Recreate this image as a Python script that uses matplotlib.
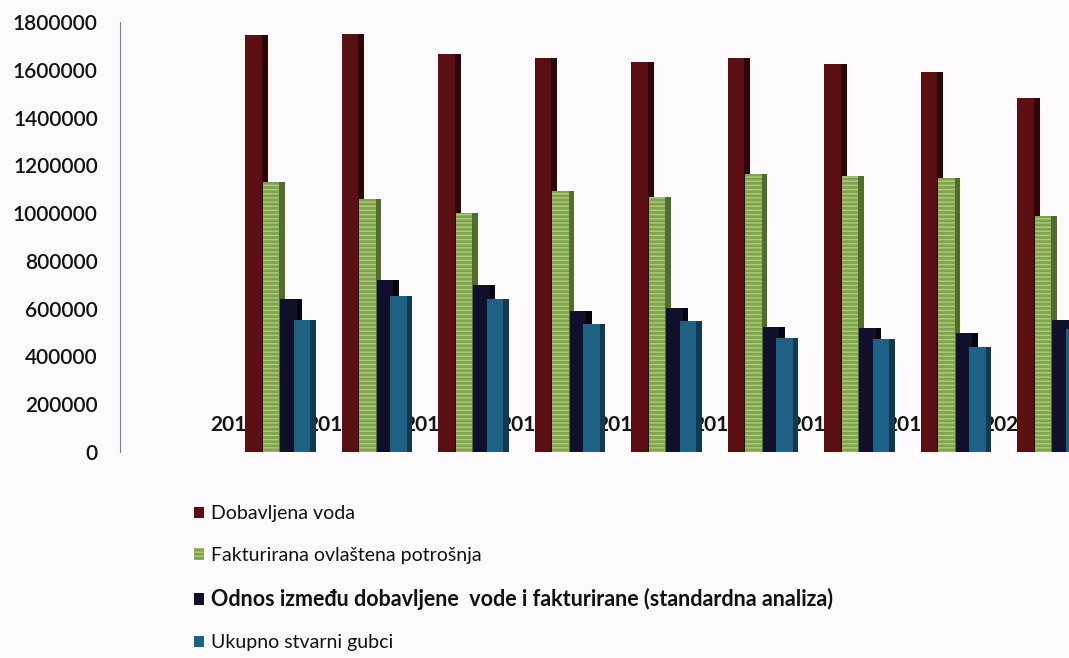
import matplotlib
matplotlib.use("Agg")
import matplotlib.pyplot as plt
import numpy as np

plt.rcParams['font.family'] = ['Lato', 'DejaVu Sans']

godine = [2012, 2013, 2014, 2015, 2016, 2017, 2018, 2019, 2020]
dobavljena = [1745000, 1750000, 1665000, 1650000, 1633000, 1650000, 1625000, 1592000, 1483000]
fakturirana = [1132000, 1060000, 1002000, 1092000, 1068000, 1165000, 1156000, 1148000, 988000]
odnos = [640000, 720000, 700000, 590000, 602000, 524000, 518000, 498000, 553000]
gubci = [553000, 653000, 641000, 535000, 549000, 478000, 473000, 440000, 515000]

nazivi = ["Dobavljena voda",
          "Fakturirana ovlaštena potrošnja",
          "Odnos između dobavljene  vode i fakturirane (standardna analiza)",
          "Ukupno stvarni gubci"]

# front / side colours for the fake 3D look
boje = ["#5c0f12", "#7da550", "#10102c", "#1f6184"]
boje_bok = ["#2e0608", "#4f6e2c", "#05050f", "#103a52"]

fig = plt.figure(figsize=(10.69, 6.58), dpi=100, facecolor="#fdfafc")
ax = fig.add_axes([120 / 1069, 206 / 658, 1 - 120 / 1069, 430 / 658])
ax.set_facecolor("#fdfafc")

x = np.arange(len(godine))
w = 0.17
side = 0.06
pomaci = [-0.18, 0.0, 0.18, 0.32]
serije = [dobavljena, fakturirana, odnos, gubci]

# year series (tiny bars) with labels
ax.bar(x - 0.38, godine, width=0.12, color="#2f7fa8", zorder=1)
for xi, g in zip(x, godine):
    ax.text(xi - 0.38, 113000, str(g), ha="center", va="center",
            fontsize=15, fontweight="bold", color="#151515", zorder=2)

for i, (s, p) in enumerate(zip(serije, pomaci)):
    z = 3 + i * 2
    ax.bar(x + p - w / 2 + w, s, width=side, align="edge", color=boje_bok[i],
           linewidth=0, zorder=z)
    kw = dict(hatch="----", edgecolor="#b4c97a") if i == 1 else {}
    ax.bar(x + p - w / 2, s, width=w, align="edge", color=boje[i],
           linewidth=0, zorder=z + 1, label=nazivi[i], **kw)

ax.set_xlim(-1.565, 8.27)
ax.set_ylim(0, 1800000)
ax.set_yticks(np.arange(0, 1800001, 200000))
ax.set_yticklabels([str(v) for v in range(0, 1800001, 200000)])
ax.tick_params(axis="y", length=0, pad=16, labelsize=15, labelcolor="#111111")
for t in ax.get_yticklabels():
    t.set_fontweight("semibold")
ax.set_xticks([])
for sp in ["top", "right", "bottom"]:
    ax.spines[sp].set_visible(False)
ax.spines["left"].set_color("#6f7f9a")
ax.spines["left"].set_linewidth(0.8)

leg = fig.legend(loc="upper left", bbox_to_anchor=(176 / 1069, 1 - 488 / 658),
                 frameon=False, handlelength=0.55, handleheight=0.55,
                 handletextpad=0.35, labelspacing=1.25, fontsize=14)
for j, t in enumerate(leg.get_texts()):
    if j == 2:
        t.set_fontsize(15.5)
        t.set_fontweight("bold")
    t.set_color("#111111")

fig.savefig("out.png", dpi=100, facecolor=fig.get_facecolor())
